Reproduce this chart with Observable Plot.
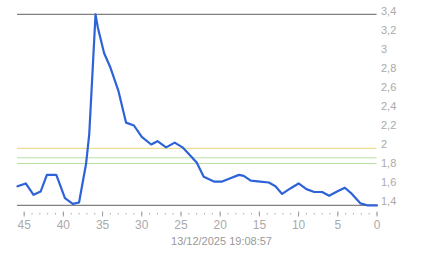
<!DOCTYPE html>
<html>
<head>
<meta charset="utf-8">
<script src="https://cdn.jsdelivr.net/npm/d3@7"></script>
<script src="https://cdn.jsdelivr.net/npm/@observablehq/plot@0.6"></script>
<style>
  html, body { margin: 0; padding: 0; background: #fff; }
  #chart { width: 443px; }
  #caption { width: 443px; text-align: center; font: 11px "Liberation Sans", Arial, sans-serif; color: #999; line-height: 18px; }
</style>
</head>
<body>
<div id="chart"></div>
<div id="caption"></div>
<script>
// minutes ago
const ago = [45.85, 44.8, 43.8, 42.9, 42.1, 40.9, 39.8, 38.8, 38.0, 37.1, 36.7, 36.25, 35.9, 35.6, 34.8, 34.0, 33.0, 32.0, 31.0, 30.0, 28.8, 28.0, 26.9, 25.8, 24.8, 24.0, 23.0, 22.1, 20.8, 19.75, 18.7, 17.6, 17.0, 16.1, 14.9, 13.8, 12.95, 12.1, 11.0, 10.0, 9.0, 8.0, 7.0, 6.1, 5.1, 4.1, 3.2, 2.1, 1.25, 0];
const values = [1.56, 1.59, 1.47, 1.505, 1.68, 1.68, 1.435, 1.375, 1.39, 1.80, 2.11, 2.81, 3.37, 3.23, 2.96, 2.81, 2.57, 2.23, 2.20, 2.08, 2.00, 2.035, 1.97, 2.02, 1.97, 1.90, 1.81, 1.66, 1.61, 1.61, 1.645, 1.68, 1.67, 1.62, 1.61, 1.60, 1.56, 1.48, 1.54, 1.59, 1.53, 1.50, 1.50, 1.46, 1.505, 1.545, 1.48, 1.38, 1.36, 1.36];
const yellowLevels = [1.96];
const greenLevels = [1.86, 1.80];
const yTicks = [1.4, 1.6, 1.8, 2.0, 2.2, 2.4, 2.6, 2.8, 3.0, 3.2, 3.4];
const xMajorTicks = [45, 40, 35, 30, 25, 20, 15, 10, 5, 0];
const xMinorTicks = d3.range(0, 46);
const timestamp = "13/12/2025 19:08:57";

const data = ago.map((a, i) => ({ago: a, v: values[i]}));
const extremes = [d3.max(values), d3.min(values)];

const chart = Plot.plot({
  width: 443,
  height: 232,
  marginLeft: 17,
  marginRight: 66.5,
  marginTop: 11,
  marginBottom: 31,
  style: { fontFamily: '"Liberation Sans", Arial, sans-serif', fontSize: "11px", color: "#aaa", background: "#fff" },
  x: { domain: [45.85, 0], label: null },
  y: { domain: [1.4, 3.4], label: null },
  marks: [
    Plot.ruleY(yellowLevels, { stroke: "#e6d47a", strokeWidth: 1 }),
    Plot.ruleY(greenLevels, { stroke: "#b8e0a4", strokeWidth: 1 }),
    Plot.ruleY(extremes, { stroke: "#808080", strokeWidth: 1.2 }),
    Plot.axisY({ anchor: "right", ticks: yTicks, tickSize: 0, tickPadding: 4, label: null,
      tickFormat: d => String(+d.toFixed(1)).replace(".", ","), fill: "#aaa" }),
    Plot.axisX({ ticks: xMinorTicks, tickSize: 1.5, text: null, label: null, dy: 12, stroke: "#aaa" }),
    Plot.axisX({ ticks: xMajorTicks, tickSize: 5, tickPadding: 3, dy: 10.5, label: null, stroke: "#999", fill: "#aaa", fontSize: 12 }),
    Plot.line(data, { x: "ago", y: "v", stroke: "#2d62d8", strokeWidth: 2.2, strokeLinejoin: "round" })
  ]
});
document.getElementById("chart").append(chart);
document.getElementById("caption").textContent = timestamp;
</script>
</body>
</html>
